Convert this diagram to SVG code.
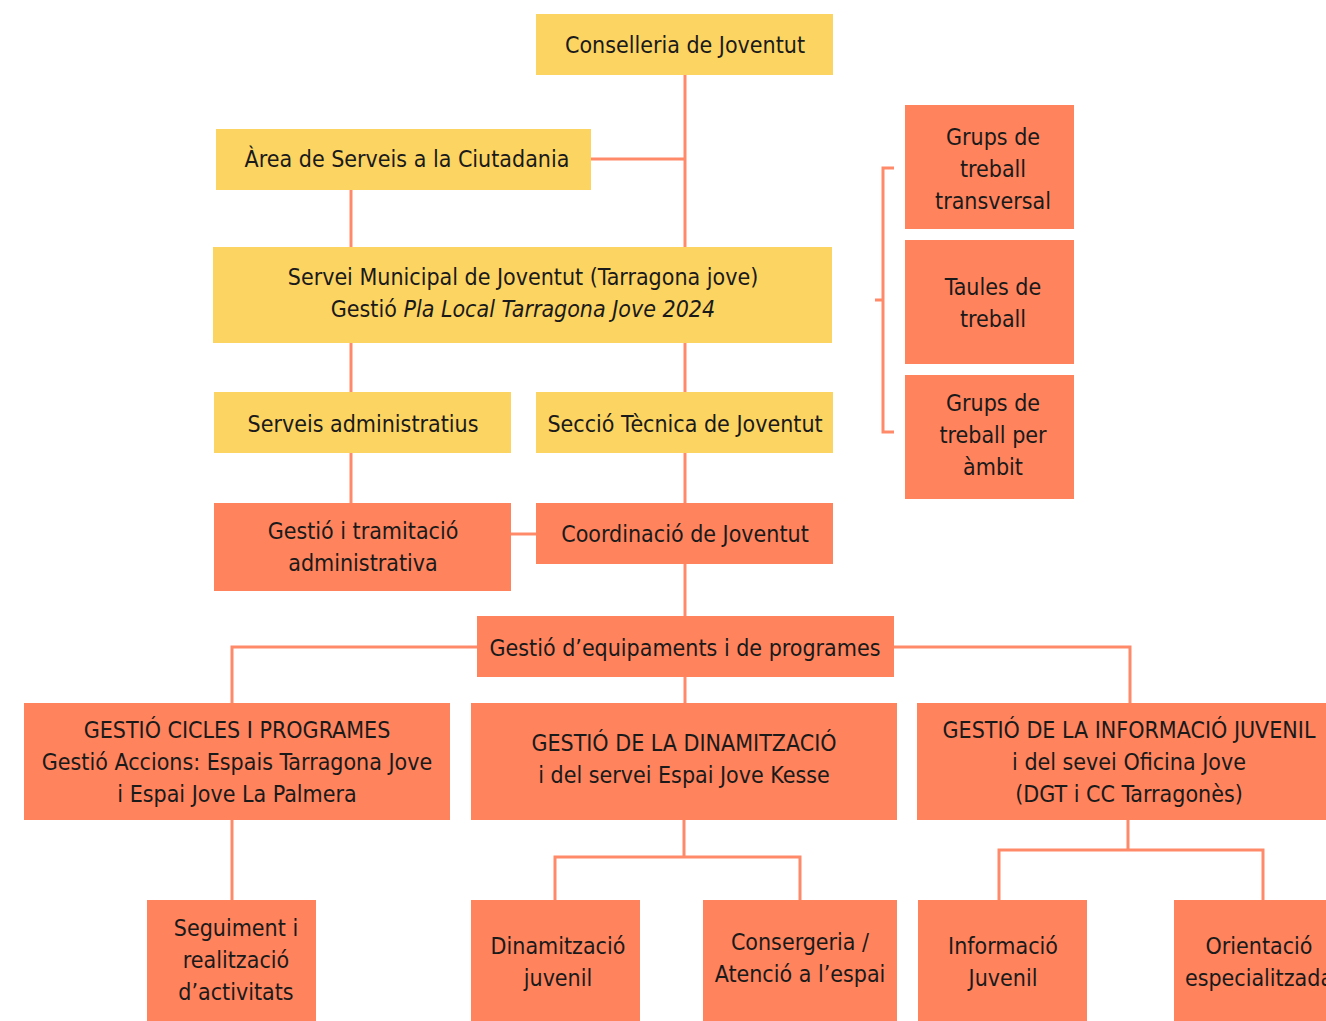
<svg xmlns="http://www.w3.org/2000/svg" width="1326" height="1021" viewBox="0 0 1326 1021">
<style>
.y{fill:#FCD462}
.o{fill:#FF835D}
text{font-family:"DejaVu Sans Condensed","Liberation Sans Narrow",sans-serif;font-size:23px;fill:#1a1a1a;text-anchor:middle;dominant-baseline:central}
.c{fill:none;stroke:#FF8A6A;stroke-width:3}
</style>
<rect width="1326" height="1021" fill="#fff"/>
<g id="connectors" class="c">
<path d="M685 75V247M591 159H685"/>
<path d="M351 190V247"/>
<path d="M351 343V392M685 343V392"/>
<path d="M351 453V503M685 453V503"/>
<path d="M511 534H536"/>
<path d="M685 564V616"/>
<path d="M477 647H232V703M894 647H1130V703M685 677V703"/>
<path d="M232 820V900"/>
<path d="M684 820V857M555 900V857H800V900"/>
<path d="M1128 820V850M999 900V850H1263V900"/>
<path d="M894 168H883V432H894M875 300H883"/>
</g>
<g id="n1"><rect class="y" x="536" y="14" width="297" height="61"/><text x="685" y="45">Conselleria de Joventut</text></g>
<g id="n2"><rect class="y" x="216" y="129" width="375" height="61"/><text x="407" y="159">Àrea de Serveis a la Ciutadania</text></g>
<g id="n3"><rect class="y" x="213" y="247" width="619" height="96"/><text x="523" y="277">Servei Municipal de Joventut (Tarragona jove)</text><text x="523" y="309">Gestió <tspan font-style="italic">Pla Local Tarragona Jove 2024</tspan></text></g>
<g id="n4"><rect class="y" x="214" y="392" width="297" height="61"/><text x="363" y="424">Serveis administratius</text></g>
<g id="n5"><rect class="y" x="536" y="392" width="297" height="61"/><text x="685" y="424">Secció Tècnica de Joventut</text></g>
<g id="n6"><rect class="o" x="214" y="503" width="297" height="88"/><text x="363" y="531">Gestió i tramitació</text><text x="363" y="563">administrativa</text></g>
<g id="n7"><rect class="o" x="536" y="503" width="297" height="61"/><text x="685" y="534">Coordinació de Joventut</text></g>
<g id="n8"><rect class="o" x="477" y="616" width="417" height="61"/><text x="685" y="648">Gestió d’equipaments i de programes</text></g>
<g id="n9"><rect class="o" x="24" y="703" width="426" height="117"/><text x="237" y="730">GESTIÓ CICLES I PROGRAMES</text><text x="237" y="762">Gestió Accions: Espais Tarragona Jove</text><text x="237" y="794">i Espai Jove La Palmera</text></g>
<g id="n10"><rect class="o" x="471" y="703" width="426" height="117"/><text x="684" y="743">GESTIÓ DE LA DINAMITZACIÓ</text><text x="684" y="775">i del servei Espai Jove Kesse</text></g>
<g id="n11"><rect class="o" x="917" y="703" width="420" height="117"/><text x="1129" y="730">GESTIÓ DE LA INFORMACIÓ JUVENIL</text><text x="1129" y="762">i del sevei Oficina Jove</text><text x="1129" y="794">(DGT i CC Tarragonès)</text></g>
<g id="n12"><rect class="o" x="147" y="900" width="169" height="121"/><text x="236" y="928">Seguiment i</text><text x="236" y="960">realització</text><text x="236" y="992">d’activitats</text></g>
<g id="n13"><rect class="o" x="471" y="900" width="169" height="121"/><text x="558" y="946">Dinamització</text><text x="558" y="978">juvenil</text></g>
<g id="n14"><rect class="o" x="703" y="900" width="194" height="121"/><text x="800" y="942">Consergeria /</text><text x="800" y="974">Atenció a l’espai</text></g>
<g id="n15"><rect class="o" x="918" y="900" width="169" height="121"/><text x="1003" y="946">Informació</text><text x="1003" y="978">Juvenil</text></g>
<g id="n16"><rect class="o" x="1174" y="900" width="170" height="121"/><text x="1259" y="946">Orientació</text><text x="1259" y="978">especialitzada</text></g>
<g id="n17"><rect class="o" x="905" y="105" width="169" height="124"/><text x="993" y="137">Grups de</text><text x="993" y="169">treball</text><text x="993" y="201">transversal</text></g>
<g id="n18"><rect class="o" x="905" y="240" width="169" height="124"/><text x="993" y="287">Taules de</text><text x="993" y="319">treball</text></g>
<g id="n19"><rect class="o" x="905" y="375" width="169" height="124"/><text x="993" y="403">Grups de</text><text x="993" y="435">treball per</text><text x="993" y="467">àmbit</text></g>
</svg>
